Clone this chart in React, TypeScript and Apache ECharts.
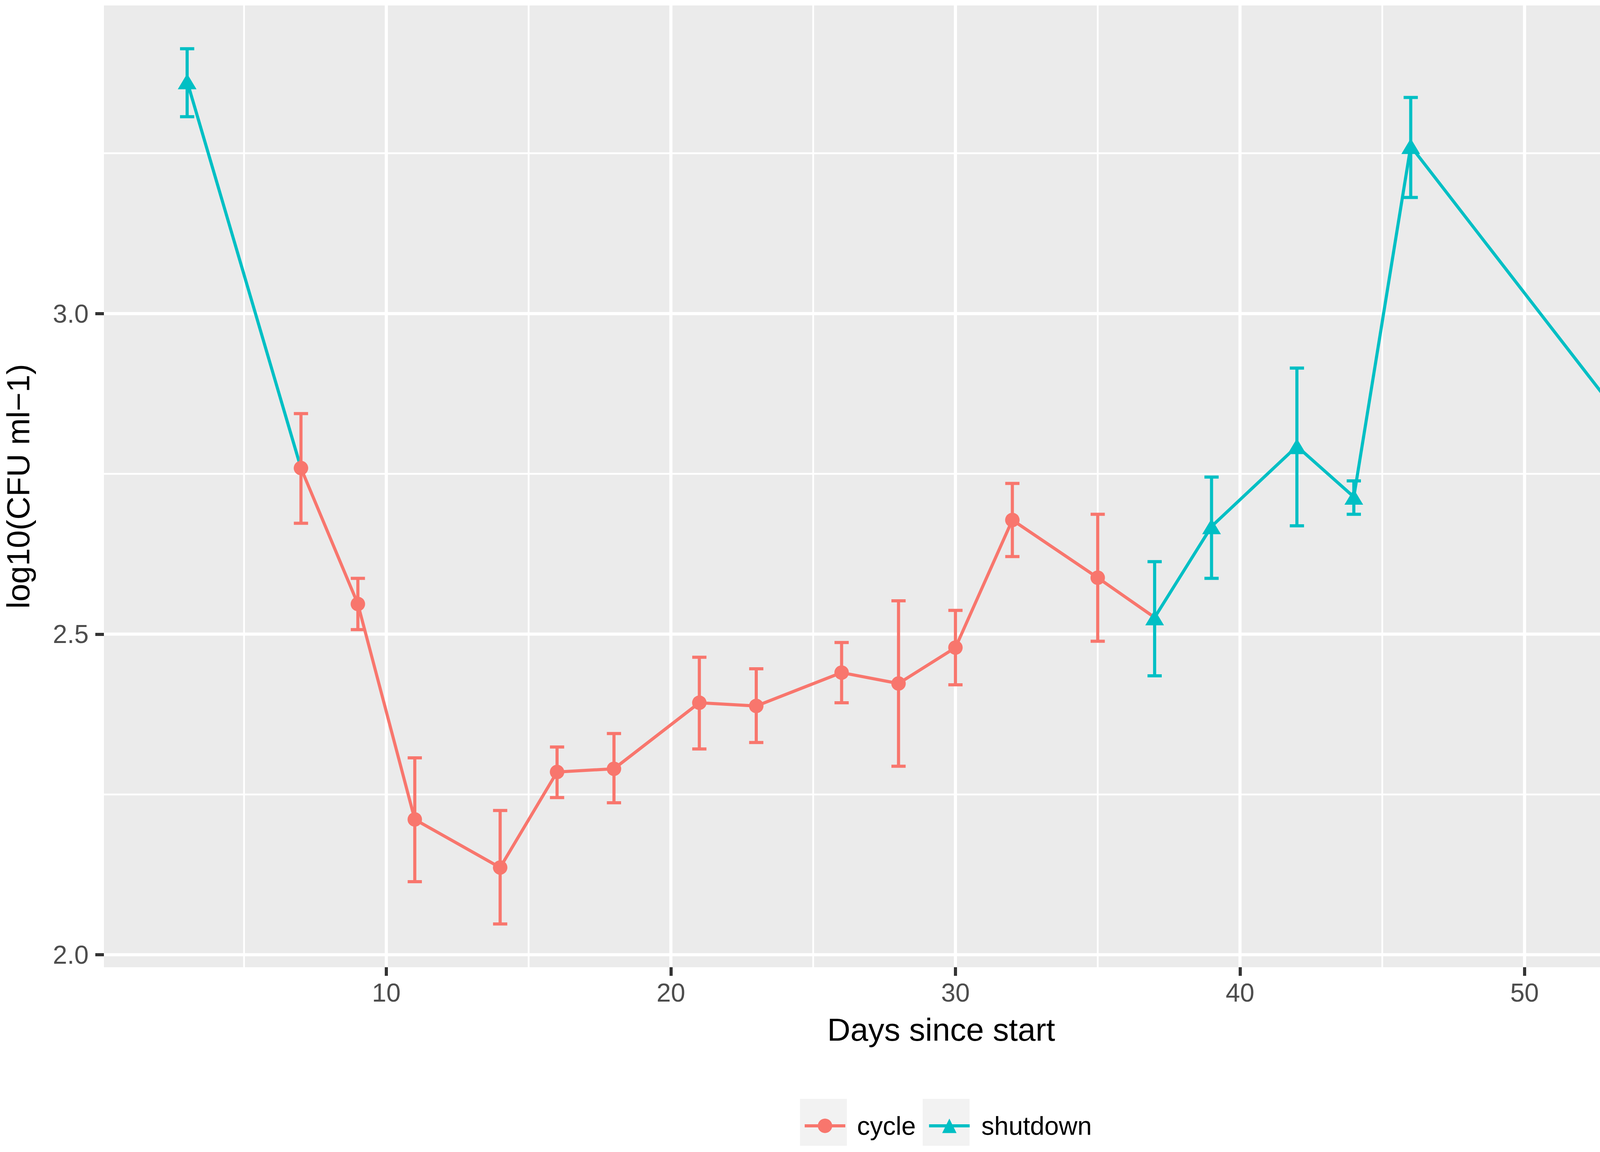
import React, { useEffect, useRef } from "react";
import * as echarts from "echarts";

// ---- data ----
const days = [3, 7, 9, 11, 14, 16, 18, 21, 23, 26, 28, 30, 32, 35, 37, 39, 42, 44, 46, 56];
const groups = [
  "shutdown", "cycle", "cycle", "cycle", "cycle", "cycle", "cycle", "cycle", "cycle", "cycle",
  "cycle", "cycle", "cycle", "cycle", "shutdown", "shutdown", "shutdown", "shutdown", "shutdown", "cycle",
];
const means = [3.362, 2.759, 2.547, 2.211, 2.136, 2.285, 2.29, 2.393, 2.388, 2.44, 2.423, 2.479, 2.678, 2.588, 2.526, 2.668, 2.793, 2.714, 3.261, 2.688];
const lower = [3.307, 2.673, 2.507, 2.114, 2.048, 2.245, 2.237, 2.321, 2.331, 2.393, 2.294, 2.421, 2.621, 2.489, 2.435, 2.587, 2.669, 2.687, 3.181, 2.631];
const upper = [3.413, 2.844, 2.587, 2.307, 2.225, 2.324, 2.345, 2.464, 2.446, 2.487, 2.552, 2.537, 2.735, 2.687, 2.613, 2.745, 2.915, 2.739, 3.337, 2.743];

const groupNames = ["cycle", "shutdown"];
const xTicks = [10, 20, 30, 40, 50];
const xMinorTicks = [5, 15, 25, 35, 45, 55];
const yTicks = [2.0, 2.5, 3.0];
const yMinorTicks = [2.25, 2.75, 3.25];
const xLimits = [0.075, 58.925];
const yLimits = [1.9805, 3.4805];
const errorBarWidth = 0.5;

// ---- styles ----
const COLORS: Record<string, string> = { cycle: "#F8766D", shutdown: "#00BFC4" };
const SYMBOLS: Record<string, any> = { cycle: "circle", shutdown: "triangle" };
const SYMBOL_SIZES: Record<string, any> = { cycle: 37, shutdown: [48, 40] };
const FONT = "'Liberation Sans', Arial, Helvetica, sans-serif";
const LINE_W = 8;

export default function App() {
  const ref = useRef<HTMLDivElement>(null);

  useEffect(() => {
    if (!ref.current) return;
    const chart = echarts.init(ref.current, undefined, { renderer: "svg" });

    // gridlines: [x, y, kind] kind 0=v major,1=v minor,2=h major,3=h minor
    const gridData: number[][] = [];
    xTicks.forEach((v) => gridData.push([v, yLimits[0], 0]));
    xMinorTicks.forEach((v) => gridData.push([v, yLimits[0], 1]));
    yTicks.forEach((v) => gridData.push([xLimits[0], v, 2]));
    yMinorTicks.forEach((v) => gridData.push([xLimits[0], v, 3]));

    // connecting line runs, coloured by the group of each segment's start point
    const runs: { group: string; points: number[][] }[] = [];
    for (let i = 0; i < days.length - 1; i++) {
      const g = groups[i];
      const last = runs[runs.length - 1];
      if (last && last.group === g) last.points.push([days[i + 1], means[i + 1]]);
      else runs.push({ group: g, points: [[days[i], means[i]], [days[i + 1], means[i + 1]]] });
    }

    const errData = days.map((d, i) => [d, lower[i], upper[i], groupNames.indexOf(groups[i])]);

    const series: any[] = [];
    series.push({
      type: "custom",
      name: "grid",
      silent: true,
      z: 1,
      clip: false,
      data: gridData,
      encode: { x: 0, y: 1 },
      renderItem: (params: any, api: any) => {
        const cs = params.coordSys;
        const kind = api.value(2);
        const pt = api.coord([api.value(0), api.value(1)]);
        const shape =
          kind < 2
            ? { x1: pt[0], y1: cs.y, x2: pt[0], y2: cs.y + cs.height }
            : { x1: cs.x, y1: pt[1], x2: cs.x + cs.width, y2: pt[1] };
        return {
          type: "line",
          shape,
          style: { stroke: "#FFFFFF", lineWidth: kind % 2 === 0 ? 8 : 4.5 },
        };
      },
    });

    runs.forEach((r, k) => {
      series.push({
        type: "line",
        name: "run" + k,
        data: r.points,
        showSymbol: false,
        symbol: "none",
        silent: true,
        z: 2,
        lineStyle: { color: COLORS[r.group], width: LINE_W, join: "round", cap: "butt" },
      });
    });

    series.push({
      type: "custom",
      name: "errorbars",
      silent: true,
      z: 3,
      data: errData,
      encode: { x: 0, y: [1, 2] },
      renderItem: (params: any, api: any) => {
        const x = api.value(0);
        const lo = api.value(1);
        const hi = api.value(2);
        const color = COLORS[groupNames[api.value(3)]];
        const top = api.coord([x, hi]);
        const bot = api.coord([x, lo]);
        const tl = api.coord([x - errorBarWidth / 2, hi]);
        const tr = api.coord([x + errorBarWidth / 2, hi]);
        const bl = api.coord([x - errorBarWidth / 2, lo]);
        const br = api.coord([x + errorBarWidth / 2, lo]);
        const style = { stroke: color, lineWidth: LINE_W };
        return {
          type: "group",
          children: [
            { type: "line", shape: { x1: top[0], y1: top[1], x2: bot[0], y2: bot[1] }, style },
            { type: "line", shape: { x1: tl[0], y1: tl[1], x2: tr[0], y2: tr[1] }, style },
            { type: "line", shape: { x1: bl[0], y1: bl[1], x2: br[0], y2: br[1] }, style },
          ],
        };
      },
    });

    groupNames.forEach((g) => {
      const pts: number[][] = [];
      days.forEach((d, i) => {
        if (groups[i] === g) pts.push([d, means[i]]);
      });
      series.push({
        type: "line",
        name: g,
        data: pts,
        symbol: SYMBOLS[g],
        symbolSize: SYMBOL_SIZES[g],
        showSymbol: true,
        silent: true,
        z: 4,
        color: COLORS[g],
        itemStyle: { color: COLORS[g], borderWidth: 0 },
        lineStyle: { color: COLORS[g], width: LINE_W, opacity: 0 },
      });
    });

    const option: any = {
      animation: false,
      backgroundColor: "#FFFFFF",
      textStyle: { fontFamily: FONT },
      grid: {
        left: 266,
        right: 9,
        top: 14,
        bottom: 473,
        show: true,
        backgroundColor: "#EBEBEB",
        borderWidth: 0,
        containLabel: false,
        outerBoundsMode: "none",
      },
      xAxis: {
        type: "value",
        min: xLimits[0],
        max: xLimits[1],
        name: "Days since start",
        nameLocation: "middle",
        nameGap: 118,
        nameTextStyle: { fontSize: 82, color: "#000000", fontFamily: FONT },
        axisLine: { show: false },
        splitLine: { show: false },
        axisTick: {
          show: true,
          length: 22,
          customValues: xTicks,
          lineStyle: { color: "#333333", width: LINE_W },
        },
        axisLabel: {
          customValues: xTicks,
          fontSize: 66,
          color: "#4D4D4D",
          margin: 32,
          fontFamily: FONT,
          formatter: (v: number) => String(v),
        },
      },
      yAxis: {
        type: "value",
        min: yLimits[0],
        max: yLimits[1],
        name: "log10(CFU ml\u22121)",
        nameLocation: "middle",
        nameGap: 179,
        nameTextStyle: { fontSize: 82, color: "#000000", fontFamily: FONT },
        axisLine: { show: false },
        splitLine: { show: false },
        axisTick: {
          show: true,
          length: 22,
          customValues: yTicks,
          lineStyle: { color: "#333333", width: LINE_W },
        },
        axisLabel: {
          customValues: yTicks,
          fontSize: 66,
          color: "#4D4D4D",
          margin: 39,
          fontFamily: FONT,
          formatter: (v: number) => v.toFixed(1),
        },
      },
      legend: {
        data: groupNames,
        orient: "horizontal",
        left: 2056,
        top: 2849,
        padding: 0,
        itemGap: 30,
        itemWidth: 104,
        itemHeight: 46,
        selectedMode: false,
        z: 5,
        textStyle: { fontSize: 66, color: "#000000", fontFamily: FONT, padding: [0, 0, 0, 25] },
        lineStyle: { width: LINE_W, opacity: 1 },
        itemStyle: { borderWidth: 0 },
      },
      graphic: [
        { type: "rect", left: 2048, top: 2813, z: 0, shape: { width: 120, height: 120 }, style: { fill: "#F2F2F2" } },
        { type: "rect", left: 2362, top: 2813, z: 0, shape: { width: 120, height: 120 }, style: { fill: "#F2F2F2" } },
      ],
      series,
    };

    chart.setOption(option);
    return () => chart.dispose();
  }, []);

  return (
    <div
      ref={ref}
      style={{ position: "absolute", left: 0, top: 0, width: 4562, height: 2949, background: "#FFFFFF" }}
    />
  );
}
